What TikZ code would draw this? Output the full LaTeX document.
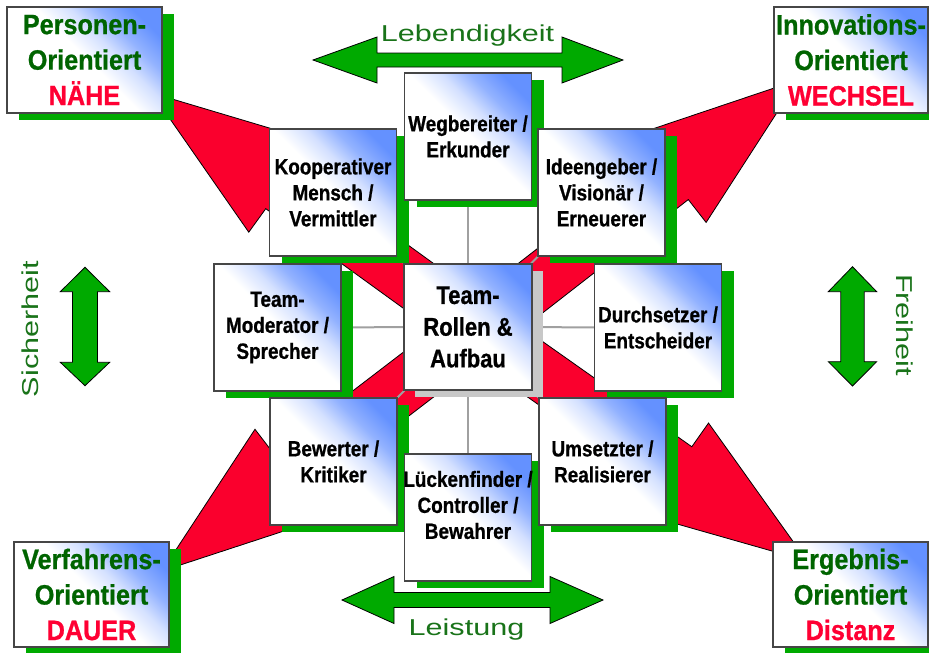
\documentclass[tikz,border=0pt]{standalone}
\usepackage{fontspec}
\usetikzlibrary{calc,shadows}
\newfontfamily\rolefont[FakeStretch=0.86,BoldFeatures={FakeBold=0.8}]{Liberation Sans}
\newfontfamily\cornerfont[FakeStretch=0.9,BoldFeatures={FakeBold=0.8}]{Liberation Sans}
\newfontfamily\widefont[FakeStretch=1.33]{Liberation Sans}
\definecolor{bblue}{RGB}{100,145,255}
\definecolor{redarr}{RGB}{250,0,45}
\definecolor{garr}{RGB}{0,170,0}
\definecolor{dgreen}{RGB}{0,100,0}
\definecolor{lgreen}{RGB}{25,115,25}
\definecolor{rtext}{RGB}{255,0,51}
\definecolor{boxline}{RGB}{70,70,70}
\definecolor{tshadow}{RGB}{200,200,200}
\definecolor{linegray}{RGB}{160,160,160}
\pgfdeclarehorizontalshading{boxshade}{100bp}{color(0bp)=(white); color(51bp)=(white); color(60bp)=(bblue!28); color(68bp)=(bblue!70); color(77bp)=(bblue); color(100bp)=(bblue)}
\pgfdeclarelayer{bg}
\pgfsetlayers{bg,main}
\tikzset{
  boxbase/.style={draw=boxline, line width=1.1pt, shade, shading=boxshade, shading angle=45, inner sep=0pt, align=center},
  greenshadow/.style={general shadow={fill=garr, shadow xshift=12pt, shadow yshift=-6.5pt}},
  roletext/.style={align=center, text=black, font=\rolefont\bfseries\fontsize{22}{26}\selectfont},
  rolebox/.style={boxbase, greenshadow, roletext, minimum width=127pt, minimum height=127pt},
  teambox/.style={boxbase, general shadow={fill=tshadow, shadow xshift=11pt, shadow yshift=-7pt}, text=black, font=\rolefont\bfseries\fontsize{25.6}{31.7}\selectfont, minimum width=128pt, minimum height=126pt},
  cornerbox/.style={boxbase, greenshadow, text=dgreen, font=\cornerfont\bfseries\fontsize{28}{35.5}\selectfont, minimum width=155pt, minimum height=106pt},
  redfill/.style={fill=redarr, draw=black, line width=0.8pt, line join=miter},
  garrow/.style={fill=garr, draw=black, line width=0.8pt, line join=miter},
  grayline/.style={draw=linegray, line width=2pt},
  axislabel/.style={text=lgreen, font=\widefont\fontsize{23}{27}\selectfont, inner sep=0pt},
}
\newcommand{\redblock}[2]{%
  \coordinate (hb) at ($(#1)!160pt!(#2)$);
  \filldraw[redfill] ($(#2)!27pt!90:(#1)$) -- ($(hb)!27pt!90:(#1)$) -- ($(hb)!56pt!90:(#1)$) -- (#1)
    -- ($(hb)!56pt!-90:(#1)$) -- ($(hb)!27pt!-90:(#1)$) -- ($(#2)!27pt!-90:(#1)$) -- cycle;
}
\begin{document}
\begin{tikzpicture}[x=1pt,y=-1pt]
\useasboundingbox (0,0) rectangle (929,653);
% role boxes
\node[rolebox] (koop) at (333,192.5) {Kooperativer\\Mensch /\\Vermittler};
\node[rolebox] (wegb) at (468,136.5) {Wegbereiter /\\Erkunder};
\node[rolebox] (idee) at (601.5,192.5) {Ideengeber /\\Visionär /\\Erneuerer};
\node[rolebox] (mod) at (277.5,327.5) {Team-\\Moderator /\\Sprecher};
\node[teambox] (team) at (468,327) {Team-\\Rollen \&\\Aufbau};
\node[rolebox] (durch) at (658,327.5) {Durchsetzer /\\Entscheider};
\node[rolebox] (bew) at (333.5,461.5) {Bewerter /\\Kritiker};
\node[rolebox] (lueck) at (468,517.5) {};
\node[roletext] (luecktext) at ($(lueck.center)+(0,-12.5)$) {Lückenfinder /\\Controller /\\Bewahrer};
\node[rolebox] (ums) at (602.5,461.5) {Umsetzter /\\Realisierer};
% corner boxes
\node[cornerbox] (pers) at (84.5,60) {Personen-\\Orientiert\\\textcolor{rtext}{NÄHE}};
\node[cornerbox, minimum width=154pt] (innov) at (851,60) {Innovations-\\Orientiert\\\textcolor{rtext}{WECHSEL}};
\node[cornerbox, minimum height=105pt] (verf) at (91.5,594.5) {Verfahrens-\\Orientiert\\\textcolor{rtext}{DAUER}};
\node[cornerbox, minimum height=105pt] (ergeb) at (850.5,594.5) {Ergebnis-\\Orientiert\\\textcolor{rtext}{Distanz}};
% green double arrows
\draw[garrow] (313,60) -- (377,37) -- (377,53) -- (562,53) -- (562,37) -- (623,60) -- (562,83) -- (562,67) -- (377,67) -- (377,83) -- cycle;
\draw[garrow] (342,600) -- (394,576.5) -- (394,592.5) -- (550,592.5) -- (550,576.5) -- (603,600) -- (550,623.5) -- (550,607.5) -- (394,607.5) -- (394,623.5) -- cycle;
\draw[garrow] (85,267.3) -- (109.7,291.7) -- (97.5,291.7) -- (97.5,362.3) -- (109.7,362.3) -- (85,385.7) -- (60.3,362.3) -- (72.5,362.3) -- (72.5,291.7) -- (60.3,291.7) -- cycle;
\draw[garrow] (852.5,266.7) -- (876.7,291.7) -- (864.2,291.7) -- (864.2,361.7) -- (876.7,361.7) -- (852.5,386) -- (828.3,361.7) -- (840.8,361.7) -- (840.8,291.7) -- (828.3,291.7) -- cycle;
% labels
\node[axislabel, anchor=base] (leb) at (467.5,41.7) {Lebendigkeit};
\node[axislabel, anchor=base] (leis) at (466.5,635) {Leistung};
\node[axislabel, anchor=base, rotate=90] (sich) at (38,329) {Sicherheit};
\node[axislabel, anchor=base, rotate=-90] (frei) at (896,325) {Freiheit};
% red arrows and connectors beneath
\coordinate (c) at (478,329);
\coordinate (tl) at (152,93);
\coordinate (tr) at (798,80);
\coordinate (br) at (807,561);
\coordinate (bl) at (162,571);
\begin{pgfonlayer}{bg}
\redblock{tl}{c}
\redblock{tr}{c}
\redblock{br}{c}
\redblock{bl}{c}
\foreach \b in {wegb,koop,idee,mod,durch,bew,lueck,ums}
  \draw[grayline] (team) -- (\b);
\end{pgfonlayer}
\end{tikzpicture}
\end{document}
